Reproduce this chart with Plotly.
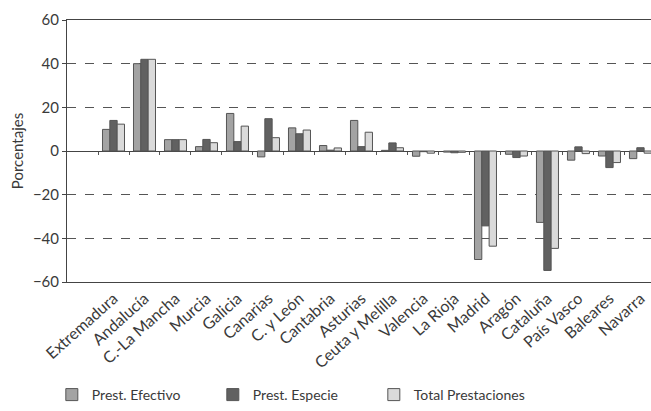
import plotly.graph_objects as go

# Regional variation of benefits (percent)
regions = ["Extremadura", "Andalucía", "C.-La Mancha", "Murcia", "Galicia", "Canarias",
           "C. y León", "Cantabria", "Asturias", "Ceuta y Melilla", "Valencia", "La Rioja",
           "Madrid", "Aragón", "Cataluña", "País Vasco", "Baleares", "Navarra"]
efectivo = [9.9, 40.0, 5.2, 2.0, 17.2, -2.7, 10.6, 2.5, 14.0, 0.3, -2.4, -0.5,
            -49.7, -1.5, -32.7, -4.2, -2.3, -3.5]
especie = [14.0, 42.0, 5.2, 5.3, 4.3, 14.8, 7.9, 0.4, 2.0, 3.7, -0.3, -0.8,
           -34.3, -3.0, -54.7, 1.9, -7.6, 1.5]
total = [12.3, 42.0, 5.2, 3.8, 11.4, 6.1, 9.6, 1.4, 8.6, 1.5, -1.0, -0.6,
         -43.6, -2.3, -44.6, -1.2, -5.3, -1.0]
y_ticks = [-60, -40, -20, 0, 20, 40, 60]

series = [
    ("Prest. Efectivo", efectivo, "#a3a3a3"),
    ("Prest. Especie", especie, "#616161"),
    ("Total Prestaciones", total, "#dadada"),
]

idx = list(range(len(regions)))
x_range = [-1.5, len(regions) - 0.66]
FONT = "Lato, 'Open Sans', sans-serif"
INK = "#3a3a3a"

fig = go.Figure()
for name, vals, color in series:
    fig.add_trace(go.Bar(
        x=idx, y=vals, name=name,
        marker=dict(color=color, line=dict(color="#555555", width=1)),
    ))

# helper axis carrying the category-boundary ticks along the zero line
fig.add_trace(go.Scatter(x=[], y=[], xaxis="x2", showlegend=False, hoverinfo="skip"))

fig.update_layout(
    width=651, height=411,
    margin=dict(l=67, r=0, t=20, b=128),
    paper_bgcolor="white", plot_bgcolor="white",
    font=dict(family=FONT, color=INK, size=13),
    barmode="group", bargap=0.29, bargroupgap=0,
    showlegend=True,
    legend=dict(orientation="h", x=-0.026, xanchor="left", y=-0.43, yanchor="middle",
                font=dict(size=14, color=INK), entrywidth=116, itemwidth=30,
                traceorder="normal"),
    xaxis=dict(
        range=x_range, tickmode="array", tickvals=idx, ticktext=regions,
        tickangle=-42, tickfont=dict(size=16, color=INK),
        showgrid=False, zeroline=False, ticks="",
        showline=True, linecolor="#444444", linewidth=1, mirror=True,
    ),
    xaxis2=dict(
        overlaying="x", anchor="free", position=0.5, range=x_range,
        tickmode="array", tickvals=[i - 0.5 for i in idx] + [len(regions) - 0.5],
        ticks="outside", ticklen=3, tickcolor="#555555",
        showticklabels=False, showgrid=False, showline=False, zeroline=False,
    ),
    yaxis=dict(
        range=[-60, 60], tickmode="array", tickvals=y_ticks,
        tickfont=dict(size=15, color=INK),
        showgrid=True, gridcolor="#555555", gridwidth=1, griddash="dash",
        zeroline=True, zerolinecolor="#444444", zerolinewidth=1,
        showline=True, linecolor="#444444", linewidth=1,
        ticks="outside", ticklen=4, tickcolor="#444444",
        title=dict(text="Porcentajes", font=dict(size=15, color=INK), standoff=5),
    ),
)

fig.write_html("out.html")
